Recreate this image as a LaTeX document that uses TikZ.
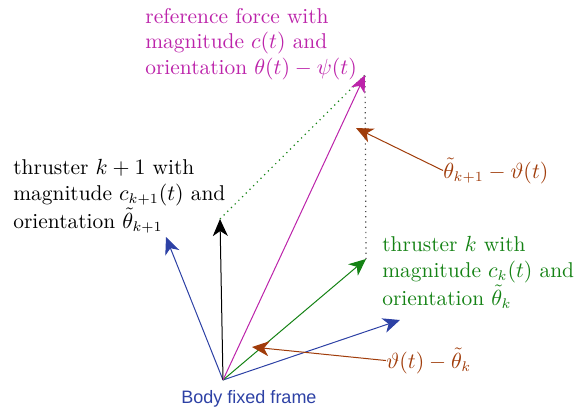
\documentclass[tikz,border=0pt]{standalone}
\usepackage{fontspec}
\newfontfamily\labelsans{Liberation Sans}
\usetikzlibrary{arrows.meta}
\definecolor{cmag}{RGB}{188,35,170}
\definecolor{cgreen}{RGB}{20,130,20}
\definecolor{cbrown}{RGB}{160,60,10}
\definecolor{cblue}{RGB}{45,65,165}
\tikzset{
  vec/.style={line width=0.5pt,-{Stealth[length=8.5pt,width=7.5pt,inset=2.5pt]}},
  lbl/.style={align=left,anchor=base west,inner sep=0pt,font=\fontsize{10.7}{12.6}\selectfont},
  guide/.style={dotted,line width=0.6pt},
}
\begin{document}
\begin{tikzpicture}[x=0.5pt,y=-0.5pt]
\useasboundingbox (0,0) rectangle (585,409);
\coordinate (O) at (223,380);
\coordinate (B1) at (166,237);
\coordinate (B2) at (400,320);
\coordinate (K1) at (220,219);
\coordinate (G) at (366,259);
\coordinate (M) at (365,75);
\coordinate (A1) at (356,128);
\coordinate (A2) at (252,347);
% guides
\draw[guide,cgreen] (K1) -- (M);
\draw[guide,black!70] (G) -- (M);
% vectors
\draw[vec,cblue] (O) -- (B1);
\draw[vec,cblue] (O) -- (B2);
\draw[vec,black] (O) -- (K1);
\draw[vec,cgreen] (O) -- (G);
\draw[vec,cmag] (O) -- (M);
% labels (anchored at the baseline of the last line)
\node[lbl,text=cmag] (lm) at (145,74) {reference force with\\magnitude $c(t)$ and\\orientation $\theta(t)-\psi(t)$};
\node[lbl,text=black] (lk1) at (13,228) {thruster $k+1$ with\\magnitude $c_{k+1}(t)$ and\\orientation $\tilde\theta_{k+1}$};
\node[lbl,text=cgreen] (lk) at (382,305) {thruster $k$ with\\magnitude $c_k(t)$ and\\orientation $\tilde\theta_k$};
\node[lbl,text=cbrown] (la1) at (443,178) {$\tilde\theta_{k+1}-\vartheta(t)$};
\node[lbl,text=cbrown] (la2) at (386,368) {$\vartheta(t)-\tilde\theta_k$};
\node[anchor=base,inner sep=0pt,text=cblue,font=\labelsans\fontsize{9}{11}\selectfont] (bf) at (249,403) {Body fixed frame};
% angle arrows
\draw[vec,cbrown] (la1.west) -- (A1);
\draw[vec,cbrown] (la2.west) -- (A2);
\end{tikzpicture}
\end{document}
